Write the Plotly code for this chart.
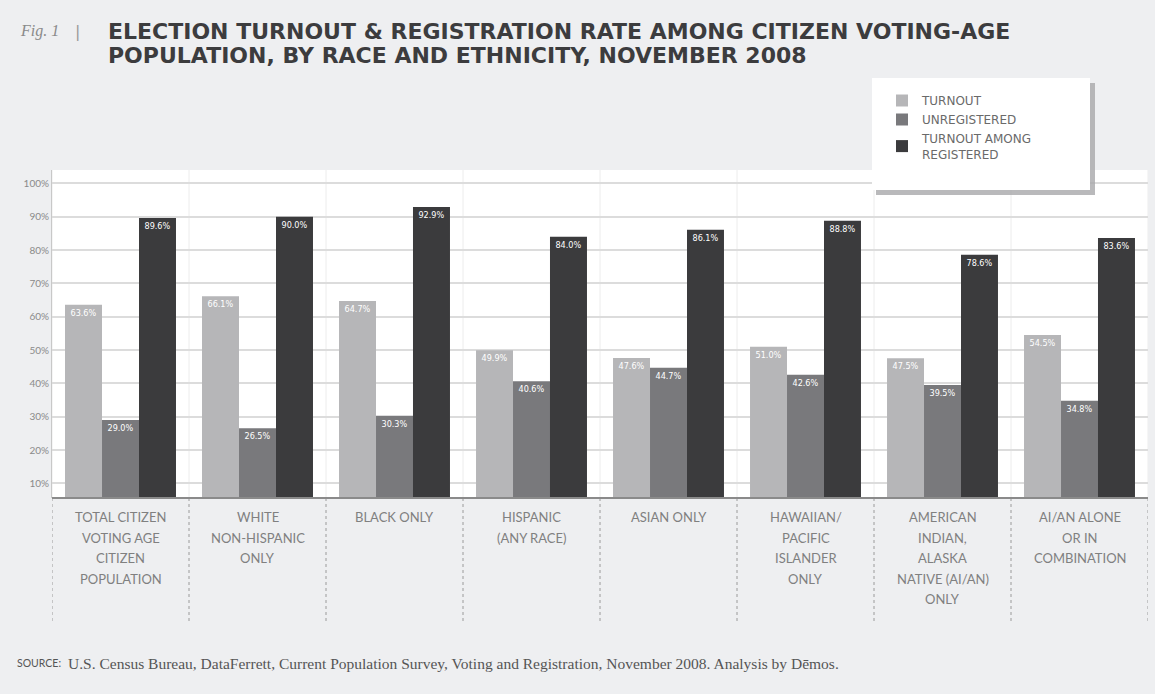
import plotly.graph_objects as go

categories = [
    "TOTAL CITIZEN<br>VOTING AGE<br>CITIZEN<br>POPULATION",
    "WHITE<br>NON-HISPANIC<br>ONLY",
    "BLACK ONLY",
    "HISPANIC<br>(ANY RACE)",
    "ASIAN ONLY",
    "HAWAIIAN/<br>PACIFIC<br>ISLANDER<br>ONLY",
    "AMERICAN<br>INDIAN,<br>ALASKA<br>NATIVE (AI/AN)<br>ONLY",
    "AI/AN ALONE<br>OR IN<br>COMBINATION",
]
turnout = [63.6, 66.1, 64.7, 49.9, 47.6, 51.0, 47.5, 54.5]
unregistered = [29.0, 26.5, 30.3, 40.6, 44.7, 42.6, 39.5, 34.8]
turnout_registered = [89.6, 90.0, 92.9, 84.0, 86.1, 88.8, 78.6, 83.6]
y_ticks = [10, 20, 30, 40, 50, 60, 70, 80, 90, 100]
y_tick_labels = [f"{v}%" for v in y_ticks]

W, H = 1155, 694
ML, MR, MT, MB = 52, 7, 170, 196
PW, PH = W - ML - MR, H - MT - MB


def px2x(px):
    return (px - ML) / PW


def px2y(py):
    return (H - MB - py) / PH


cat_ids = list(range(len(categories)))
series = [
    ("TURNOUT", turnout, "#b6b6b8"),
    ("UNREGISTERED", unregistered, "#79797c"),
    ("TURNOUT AMONG<br>REGISTERED", turnout_registered, "#3b3b3d"),
]

fig = go.Figure()
for name, vals, col in series:
    fig.add_trace(go.Bar(
        x=cat_ids, y=vals, name=name,
        marker=dict(color=col, line=dict(width=0)),
        text=[f"{v:.1f}%" for v in vals],
        textposition="inside", insidetextanchor="end",
        textfont=dict(color="white", size=9, family="DejaVu Sans Condensed"),
        textangle=0, constraintext="none",
        cliponaxis=True,
    ))

shapes = []
for i in range(len(categories) + 1):
    shapes.append(dict(type="line", xref="x", yref="paper", x0=i - 0.5, x1=i - 0.5,
                       y0=0, y1=1, line=dict(color="#ececec", width=1), layer="below"))
    shapes.append(dict(type="line", xref="x", yref="paper", x0=i - 0.5, x1=i - 0.5,
                       y0=px2y(498), y1=px2y(622), line=dict(color="#9a9a9a", width=1, dash="dot")))
shapes.append(dict(type="line", xref="paper", yref="paper", x0=0, x1=1, y0=0, y1=0,
                   line=dict(color="#8a8a8a", width=2)))
shapes.append(dict(type="rect", xref="paper", yref="paper",
                   x0=px2x(876), x1=px2x(1095), y0=px2y(195), y1=px2y(83),
                   fillcolor="#a8a8aa", line=dict(width=0), opacity=0.8))
shapes.append(dict(type="rect", xref="paper", yref="paper",
                   x0=px2x(872), x1=px2x(1090), y0=px2y(190), y1=px2y(78),
                   fillcolor="white", line=dict(width=0)))

annotations = []
annotations.append(dict(xref="paper", yref="paper", x=px2x(18), y=px2y(31), xanchor="left", yanchor="middle",
                        text="<i>Fig. 1</i>", showarrow=False,
                        font=dict(family="Liberation Serif", size=16, color="#8a8a8a")))
annotations.append(dict(xref="paper", yref="paper", x=px2x(73), y=px2y(31), xanchor="left", yanchor="middle",
                        text="|", showarrow=False,
                        font=dict(family="DejaVu Sans", size=16, color="#9a9a9a")))
annotations.append(dict(xref="paper", yref="paper", x=px2x(106), y=px2y(31), xanchor="left", yanchor="middle",
                        text="<b>ELECTION TURNOUT & REGISTRATION RATE AMONG CITIZEN VOTING-AGE</b>", showarrow=False,
                        font=dict(family="DejaVu Sans", size=22, color="#3c3c3e")))
annotations.append(dict(xref="paper", yref="paper", x=px2x(106), y=px2y(55), xanchor="left", yanchor="middle",
                        text="<b>POPULATION, BY RACE AND ETHNICITY, NOVEMBER 2008</b>", showarrow=False,
                        font=dict(family="DejaVu Sans", size=22, color="#3c3c3e")))
for i, cat in enumerate(categories):
    for k, line in enumerate(cat.split("<br>")):
        annotations.append(dict(xref="x", yref="paper", x=i, y=px2y(517 + 20.5 * k),
                                xanchor="center", yanchor="middle", text=line, showarrow=False,
                                font=dict(family="Lato", size=13, color="#808080")))
annotations.append(dict(xref="paper", yref="paper", x=px2x(15), y=px2y(663), xanchor="left", yanchor="middle",
                        text="SOURCE:", showarrow=False,
                        font=dict(family="Lato", size=10.5, color="#555555")))
annotations.append(dict(xref="paper", yref="paper", x=px2x(66), y=px2y(663), xanchor="left", yanchor="middle",
                        text="U.S. Census Bureau, DataFerrett, Current Population Survey, Voting and Registration, November 2008. Analysis by Dēmos.",
                        showarrow=False,
                        font=dict(family="Liberation Serif", size=15.5, color="#555555")))

fig.update_layout(
    width=W, height=H,
    margin=dict(l=ML, r=MR, t=MT, b=MB, pad=0),
    paper_bgcolor="#eeeff1",
    plot_bgcolor="white",
    barmode="group",
    bargap=0.19,
    bargroupgap=0.0,
    showlegend=True,
    legend=dict(x=px2x(882), y=px2y(86), xanchor="left", yanchor="top",
                bgcolor="rgba(0,0,0,0)", borderwidth=0,
                font=dict(family="DejaVu Sans", size=12, color="#6a6a6a"),
                itemwidth=30, tracegroupgap=6),
    xaxis=dict(range=[-0.5, len(categories) - 0.5], showticklabels=False, showgrid=False,
               zeroline=False, showline=False, ticks=""),
    yaxis=dict(range=[5.6, 104], tickmode="array", tickvals=y_ticks, ticktext=y_tick_labels,
               showgrid=True, gridcolor="#dcdcdc", gridwidth=2, zeroline=False,
               showline=True, linecolor="#c8c8c8", linewidth=1,
               tickfont=dict(family="Lato", size=10, color="#8a8a8a"), ticks=""),
    shapes=shapes,
    annotations=annotations,
    font=dict(family="DejaVu Sans"),
)

fig.write_html("out.html")
